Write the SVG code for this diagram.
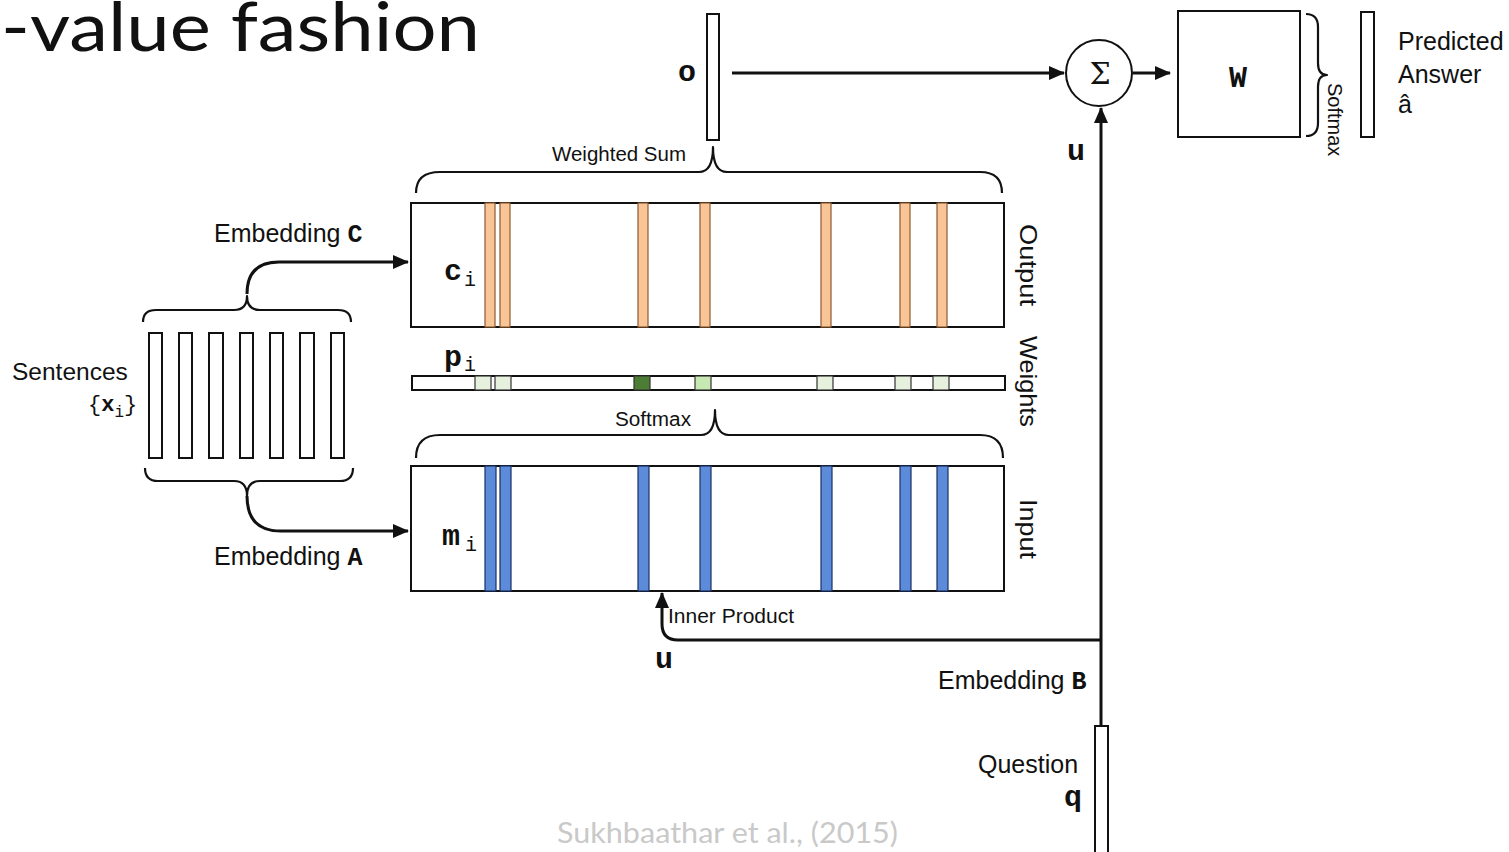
<svg xmlns="http://www.w3.org/2000/svg" width="1509" height="852" viewBox="0 0 1509 852">
<style>
.sans{font-family:"Liberation Sans","Open Sans",Arial,sans-serif;fill:#111}
.mono{font-family:"Liberation Mono","DejaVu Sans Mono",monospace;font-weight:bold;fill:#111}
.monor{font-family:"Liberation Mono","DejaVu Sans Mono",monospace;fill:#111}
.box{fill:#fff;stroke:#111;stroke-width:2}
.vec{fill:#fff;stroke:#111;stroke-width:2}
.ob{fill:#fac596;stroke:#8a5a30;stroke-width:1.2}
.bb{fill:#5b8bd9;stroke:#1c2f63;stroke-width:1.2}
.wl{fill:#e6f1de;stroke:#333;stroke-width:1.2}
.brace{fill:none;stroke:#111;stroke-width:2.2;stroke-linejoin:round}
.conn{fill:none;stroke:#111;stroke-width:3}
</style>
<defs>
<marker id="ah" markerUnits="userSpaceOnUse" markerWidth="16" markerHeight="14" refX="15" refY="7" orient="auto">
<path d="M0,0 L16,7 L0,14 z" fill="#111"/>
</marker>
</defs>
<rect width="1509" height="852" fill="#fff"/>

<g id="title">
<text x="1" y="51" font-family="Lato,'Noto Sans',sans-serif" font-size="67" fill="#111" textLength="479" lengthAdjust="spacingAndGlyphs">-value fashion</text>
</g>

<g id="connectors">
<path class="conn" d="M732,73 L1064,73" marker-end="url(#ah)"/>
<path class="conn" d="M1133,73 L1170,73" marker-end="url(#ah)"/>
<path class="conn" d="M1101,726 L1101,108" marker-end="url(#ah)"/>
<path class="conn" d="M1101,640 L678,640 Q662,640 662,624 L662,593" marker-end="url(#ah)"/>
<path class="conn" d="M247,294 Q247,262 279,262 L408,262" marker-end="url(#ah)"/>
<path class="conn" d="M247,496 Q247,531 281,531 L408,531" marker-end="url(#ah)"/>
</g>

<g id="o-vector">
<rect class="vec" x="707" y="14" width="12" height="126"/>
<text class="mono" x="678" y="81" font-size="30">o</text>
</g>

<g id="sum-node">
<circle cx="1099" cy="73" r="33" fill="#fff" stroke="#111" stroke-width="2"/>
<text x="1100" y="84" font-family="'DejaVu Serif','Liberation Serif',serif" font-size="30" text-anchor="middle" fill="#111">Σ</text>
</g>

<g id="W-node">
<rect class="box" x="1178" y="11" width="122" height="126"/>
<text class="mono" x="1238" y="87" font-size="30" text-anchor="middle">W</text>
<path class="brace" d="M1306,14 Q1318,14 1318,27 L1318,63 Q1318,75 1327,75 Q1318,75 1318,87 L1318,123 Q1318,136 1306,136"/>
<text class="sans" transform="translate(1328,83) rotate(90)" font-size="20">Softmax</text>
</g>

<g id="answer">
<rect class="vec" x="1361" y="12" width="13" height="125"/>
<text class="sans" x="1398" y="50" font-size="25">Predicted</text>
<text class="sans" x="1398" y="83" font-size="25">Answer</text>
<text class="sans" x="1398" y="113" font-size="25">â</text>
</g>

<g id="weighted-sum">
<path class="brace" d="M416,193 Q416,172 440,172 L699,172 Q713,172 713,147 Q713,172 727,172 L980,172 Q1002,172 1002,193"/>
<text class="sans" x="552" y="161" font-size="20" textLength="134" lengthAdjust="spacingAndGlyphs">Weighted Sum</text>
</g>

<g id="output-memory">
<rect class="box" x="411" y="203" width="593" height="124"/>
<rect class="ob" x="485" y="203" width="10" height="124"/>
<rect class="ob" x="500" y="203" width="10" height="124"/>
<rect class="ob" x="638" y="203" width="10" height="124"/>
<rect class="ob" x="700" y="203" width="10" height="124"/>
<rect class="ob" x="821" y="203" width="10" height="124"/>
<rect class="ob" x="900" y="203" width="10" height="124"/>
<rect class="ob" x="937" y="203" width="10" height="124"/>
<text class="mono" x="444" y="280" font-size="30">c</text>
<text class="monor" x="464" y="286" font-size="20">i</text>
<text class="sans" transform="translate(1020,224) rotate(90)" font-size="24" textLength="82" lengthAdjust="spacingAndGlyphs">Output</text>
</g>

<g id="weights">
<rect class="box" x="412" y="376" width="593" height="14" stroke-width="1.5"/>
<rect class="wl" x="475" y="376" width="16" height="14"/>
<rect class="wl" x="495" y="376" width="16" height="14"/>
<rect x="634" y="376" width="16" height="14" fill="#4d7d34" stroke="#333" stroke-width="1.2"/>
<rect x="695" y="376" width="16" height="14" fill="#c7e8b2" stroke="#333" stroke-width="1.2"/>
<rect class="wl" x="817" y="376" width="16" height="14"/>
<rect class="wl" x="895" y="376" width="16" height="14"/>
<rect class="wl" x="933" y="376" width="16" height="14"/>
<text class="mono" x="444" y="366" font-size="30">p</text>
<text class="monor" x="464" y="371" font-size="20">i</text>
<text class="sans" transform="translate(1020,336) rotate(90)" font-size="24" textLength="91" lengthAdjust="spacingAndGlyphs">Weights</text>
</g>

<g id="softmax">
<path class="brace" d="M416,458 Q416,435 440,435 L701,435 Q715,435 715,410 Q715,435 729,435 L980,435 Q1003,435 1003,458"/>
<text class="sans" x="615" y="426" font-size="20" textLength="76" lengthAdjust="spacingAndGlyphs">Softmax</text>
</g>

<g id="input-memory">
<rect class="box" x="411" y="466" width="593" height="125"/>
<rect class="bb" x="485" y="466" width="11" height="125"/>
<rect class="bb" x="500" y="466" width="11" height="125"/>
<rect class="bb" x="638" y="466" width="11" height="125"/>
<rect class="bb" x="700" y="466" width="11" height="125"/>
<rect class="bb" x="821" y="466" width="11" height="125"/>
<rect class="bb" x="900" y="466" width="11" height="125"/>
<rect class="bb" x="937" y="466" width="11" height="125"/>
<text class="mono" x="442" y="545" font-size="30">m</text>
<text class="monor" x="465" y="551" font-size="20">i</text>
<text class="sans" transform="translate(1020,499) rotate(90)" font-size="24" textLength="60" lengthAdjust="spacingAndGlyphs">Input</text>
</g>

<g id="inner-product">
<text class="sans" x="668" y="623" font-size="20" textLength="126" lengthAdjust="spacingAndGlyphs">Inner Product</text>
<text class="mono" x="655" y="668" font-size="30">u</text>
</g>

<g id="u-top">
<text class="mono" x="1067" y="160" font-size="30">u</text>
</g>

<g id="sentences">
<rect class="vec" x="149" y="333" width="13" height="125"/>
<rect class="vec" x="179" y="333" width="13" height="125"/>
<rect class="vec" x="209" y="333" width="14" height="125"/>
<rect class="vec" x="240" y="333" width="13" height="125"/>
<rect class="vec" x="270" y="333" width="13" height="125"/>
<rect class="vec" x="300" y="333" width="14" height="125"/>
<rect class="vec" x="331" y="333" width="13" height="125"/>
<path class="brace" d="M143,322 Q143,310 156,310 L234,310 Q247,310 247,296 Q247,310 260,310 L338,310 Q351,310 351,322"/>
<path class="brace" d="M145,468 Q145,481 158,481 L234,481 Q247,481 247,496 Q247,481 260,481 L340,481 Q353,481 353,468"/>
<text class="sans" x="12" y="380" font-size="24.5">Sentences</text>
<text x="88" y="411" font-size="22" fill="#111"><tspan class="monor">{</tspan><tspan class="mono">x</tspan><tspan class="monor" font-size="16" dy="6">i</tspan><tspan class="monor" dy="-6">}</tspan></text>
<text x="214" y="242" font-size="25" fill="#111"><tspan class="sans">Embedding </tspan><tspan class="mono">C</tspan></text>
<text x="214" y="565" font-size="25" fill="#111"><tspan class="sans">Embedding </tspan><tspan class="mono">A</tspan></text>
</g>

<g id="question">
<rect class="vec" x="1095" y="726" width="13" height="130"/>
<text x="938" y="689" font-size="25" fill="#111"><tspan class="sans">Embedding </tspan><tspan class="mono">B</tspan></text>
<text class="sans" x="978" y="773" font-size="25">Question</text>
<text class="mono" x="1064" y="806" font-size="30">q</text>
</g>

<g id="citation">
<text x="557" y="843" font-family="Lato,'Noto Sans',sans-serif" font-size="28" fill="#c9c9c9" textLength="341" lengthAdjust="spacingAndGlyphs">Sukhbaathar et al., (2015)</text>
</g>
</svg>
